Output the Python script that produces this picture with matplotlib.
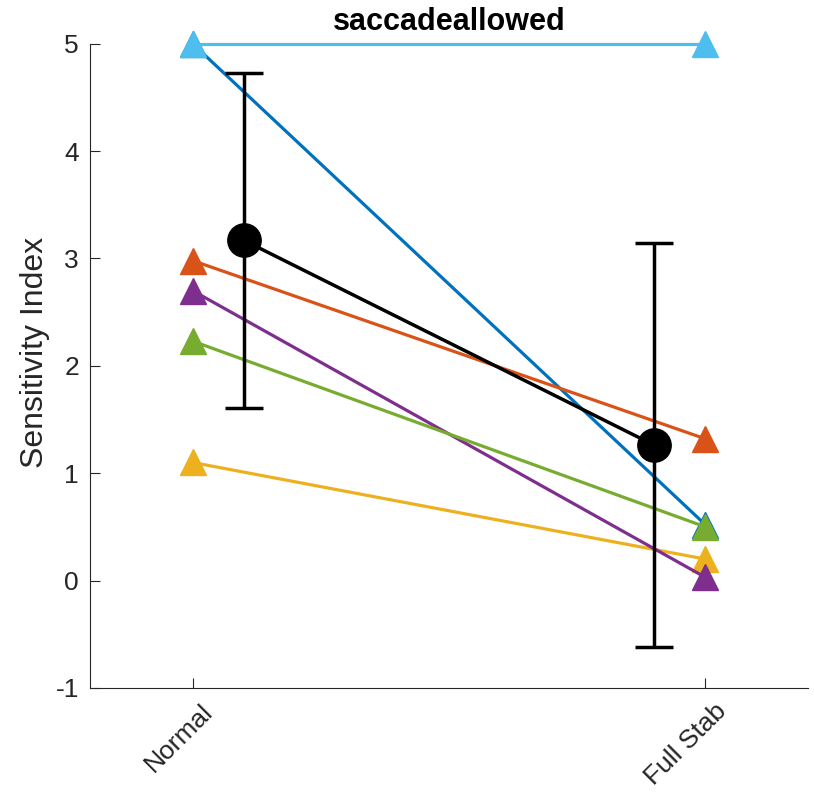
import matplotlib.pyplot as plt
import matplotlib.transforms as mtransforms
import numpy as np

plt.rcParams["font.family"] = ["Liberation Sans", "DejaVu Sans"]
plt.rcParams["axes.unicode_minus"] = False

conditions = ["Normal", "Full Stab"]
normal_vals = [5.0, 2.98, 1.10, 2.70, 2.23, 5.0]
fullstab_vals = [0.52, 1.32, 0.20, 0.03, 0.50, 5.0]
colors = ["#0072BD", "#D95319", "#EDB120", "#7E2F8E", "#77AC30", "#4DBEEE"]

x = np.array([1, 2])
offset = np.array([0.1, -0.1])

fig = plt.figure(figsize=(8.14, 7.97), dpi=100)
ax = fig.add_axes([0.1106, 0.1368, 0.8820, 0.8084])

for a, b, c in zip(normal_vals, fullstab_vals, colors):
    ax.plot(x, [a, b], color=c, lw=2.3, marker="^", ms=19, mec=c, mfc=c,
            clip_on=False)

data = np.array([normal_vals, fullstab_vals])
means = data.mean(axis=1)
sds = data.std(axis=1, ddof=1)
ax.errorbar(x + offset, means, yerr=sds, color="k", lw=2.5, marker="o", ms=24,
            capsize=14, capthick=2.5, elinewidth=2.5, zorder=5, clip_on=False)

ax.set_xlim(0.8, 2.2)
ax.set_ylim(-1, 5)
ax.set_xticks(x)
ax.set_xticklabels(conditions, rotation=45, ha="right", va="top",
                   rotation_mode="anchor")
ax.set_yticks(range(-1, 6))
ax.tick_params(direction="in", length=7, labelsize=19, colors="#262626", pad=8)
shift = mtransforms.ScaledTranslation(6 / 72, 0, fig.dpi_scale_trans)
for lab in ax.get_xticklabels():
    lab.set_transform(lab.get_transform() + shift)
for s in ["top", "right"]:
    ax.spines[s].set_visible(False)
for s in ["left", "bottom"]:
    ax.spines[s].set_color("#262626")
    ax.spines[s].set_linewidth(0.8)
ax.set_ylabel("Sensitivity Index", fontsize=23, color="#262626", labelpad=4)
ax.yaxis.label.set_y(0.52)
ax.set_title("saccadeallowed", fontsize=22, fontweight="bold", pad=10)

fig.savefig("out.png")
